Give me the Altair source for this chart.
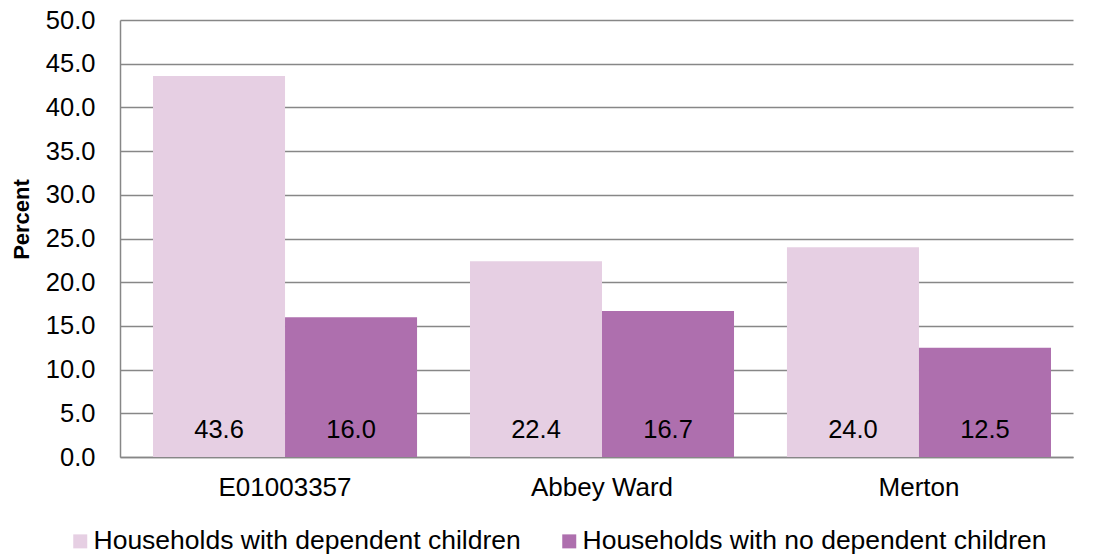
import altair as alt
import pandas as pd

categories = ["E01003357", "Abbey Ward", "Merton"]
series_names = ["Households with dependent children", "Households with no dependent children"]
with_children = [43.6, 22.4, 24.0]
no_children = [16.0, 16.7, 12.5]
colors = ["#E6CFE3", "#AE6FAE"]
y_ticks = [0, 5, 10, 15, 20, 25, 30, 35, 40, 45, 50]

rows = []
for i, c in enumerate(categories):
    rows.append({"category": c, "series": series_names[0], "value": with_children[i]})
    rows.append({"category": c, "series": series_names[1], "value": no_children[i]})
df = pd.DataFrame(rows)

FONT = "Liberation Sans"
GRID = "#878787"

x_enc = alt.X(
    "category:N",
    sort=categories,
    scale=alt.Scale(paddingInner=0.167, paddingOuter=0.0868, align=0.6),
    axis=alt.Axis(
        title=None, labelAngle=0, labelFontSize=26, labelFont=FONT, labelColor="#000000",
        ticks=False, labelPadding=17, domainColor=GRID, domainWidth=1.5, grid=False,
    ),
)
xoff = alt.XOffset("series:N", sort=series_names, scale=alt.Scale(paddingInner=0, paddingOuter=0))

bars = alt.Chart(df).mark_bar().encode(
    x=x_enc,
    xOffset=xoff,
    y=alt.Y(
        "value:Q",
        scale=alt.Scale(domain=[0, 50], nice=False),
        axis=alt.Axis(
            title="Percent", titleFont=FONT, titleFontSize=22, titleFontWeight="bold",
            titleColor="#000000", titleX=-87, titleY=199,
            values=y_ticks, format=".1f", labelFont=FONT, labelFontSize=25.5, labelColor="#000000",
            ticks=False, labelPadding=25, domainColor=GRID, domainWidth=1.5,
            gridColor=GRID, gridWidth=1.5,
        ),
    ),
    color=alt.Color(
        "series:N",
        sort=series_names,
        scale=alt.Scale(domain=series_names, range=colors),
        legend=alt.Legend(
            title=None, orient="none", legendX=-53, legendY=508, direction="horizontal",
            symbolType="square", symbolSize=196, symbolStrokeWidth=0, symbolOpacity=1,
            labelFont=FONT, labelFontSize=26.5, labelColor="#000000", labelOffset=0,
            labelLimit=0, columnPadding=35,
        ),
    ),
)

labels = alt.Chart(df).mark_text(
    font=FONT, fontSize=25.5, color="#000000", baseline="middle", dy=-27
).encode(
    x=x_enc,
    xOffset=xoff,
    y=alt.datum(0),
    text=alt.Text("value:Q", format=".1f"),
)

chart = alt.layer(bars, labels).properties(
    width=953,
    height=437,
    padding={"left": 120, "top": 20, "right": 24, "bottom": 100},
    autosize=alt.AutoSizeParams(type="none"),
    background="#FFFFFF",
).configure_view(strokeWidth=0)

chart.save("out.html", embed_options={"renderer": "svg", "actions": False})
